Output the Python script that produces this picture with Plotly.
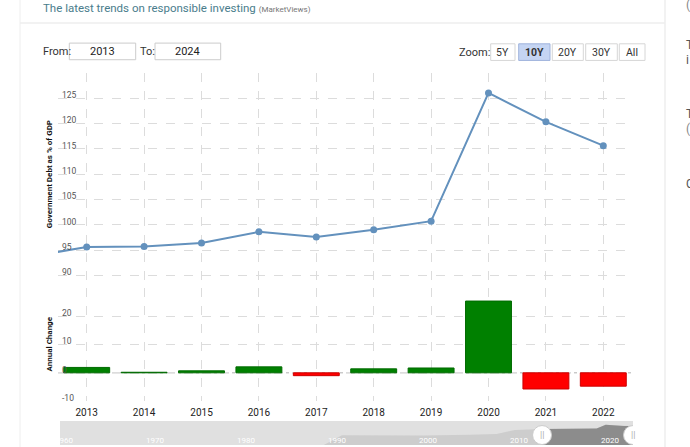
import plotly.graph_objects as go

# ---------------- data ----------------
years = [2012, 2013, 2014, 2015, 2016, 2017, 2018, 2019, 2020, 2021, 2022]
debt_gdp = [93.7, 95.6, 95.7, 96.4, 98.6, 97.6, 99.0, 100.7, 126.0, 120.3, 115.6]

bar_years = [2013, 2014, 2015, 2016, 2017, 2018, 2019, 2020, 2021, 2022]
annual_change = [1.9, 0.2, 0.7, 2.1, -1.0, 1.4, 1.7, 25.3, -5.7, -4.7]

top_ticks = [90, 95, 100, 105, 110, 115, 120, 125, 130]
top_ticktext = ["90", "95", "100", "105", "110", "115", "120", "125", ""]
bot_ticks = [-10, 0, 10, 20, 30]
bot_ticktext = ["-10", "0", "10", "20", ""]

# navigator (full history, rough reading of the mini chart)
nav_years = [1960, 1989, 1991, 2000, 2005, 2008, 2010, 2013, 2019, 2020, 2021, 2022, 2023]
nav_vals = [0, 0, 62, 60, 64, 69, 94, 100, 104, 127, 122, 119, 119]
nav_sel_from, nav_sel_to = 2013, 2023
nav_labels = [1960, 1970, 1980, 1990, 2000, 2010, 2020]

zoom_buttons = ["5Y", "10Y", "20Y", "30Y", "All"]
active_button = "10Y"
from_year, to_year = "2013", "2024"

# ---------------- helpers ----------------
W, H = 690, 447
def px(x):
    return x / W
def py(y):
    return 1 - y / H

FONT = "Roboto"
LINE_COLOR = "#6391bd"
GRID = "#dcdcdc"

fig = go.Figure()

# main line
fig.add_trace(go.Scatter(
    x=years, y=debt_gdp, mode="lines+markers",
    line=dict(color=LINE_COLOR, width=2),
    marker=dict(color=LINE_COLOR, size=7),
    xaxis="x", yaxis="y", showlegend=False, hoverinfo="x+y"))

# bars
bar_colors = ["#008000" if v >= 0 else "#ff0000" for v in annual_change]
bar_lines = ["#006a00" if v >= 0 else "#cc0000" for v in annual_change]
fig.add_trace(go.Bar(
    x=bar_years, y=annual_change, width=0.8,
    marker=dict(color=bar_colors, line=dict(color=bar_lines, width=1)),
    xaxis="x2", yaxis="y2", showlegend=False))

# navigator
fig.add_trace(go.Scatter(
    x=nav_years, y=nav_vals, mode="lines", line=dict(width=0, color="#cdcdcd"),
    fill="tozeroy", fillcolor="#cdcdcd", xaxis="x3", yaxis="y3",
    showlegend=False, hoverinfo="skip"))
sel_x = [y for y in nav_years if nav_sel_from <= y <= nav_sel_to]
sel_y = [v for y, v in zip(nav_years, nav_vals) if nav_sel_from <= y <= nav_sel_to]
fig.add_trace(go.Scatter(
    x=sel_x, y=sel_y, mode="lines", line=dict(width=0, color="#8c8c8c"),
    fill="tozeroy", fillcolor="#8c8c8c", xaxis="x3", yaxis="y3",
    showlegend=False, hoverinfo="skip"))

xr = [2012.5, 2022.5]
xdom = [px(58), px(632)]
common_x = dict(range=xr, domain=xdom, tickvals=bar_years, showgrid=True,
                gridcolor=GRID, griddash="dash", gridwidth=1, zeroline=False,
                showline=False, ticks="", fixedrange=True)
ytick_common = dict(ticklabelposition="inside", ticklabelstandoff=1,
                    ticklabelshift=-3, ticklabeloverflow="allow",
                    tickfont=dict(size=8.5, color="#555"), showgrid=True,
                    gridcolor=GRID, griddash="dash", zeroline=False, ticks="")

fig.update_layout(
    width=W, height=H, autosize=False,
    margin=dict(l=0, r=0, t=0, b=0),
    paper_bgcolor="white", plot_bgcolor="white",
    font=dict(family=FONT, color="#333"),
    bargap=0.2,
    xaxis=dict(**common_x, anchor="y", showticklabels=False),
    yaxis=dict(range=[88.37, 130], domain=[py(285), py(73)], tickvals=top_ticks,
               ticktext=top_ticktext, anchor="x", **ytick_common),
    xaxis2=dict(**common_x, anchor="y2", showticklabels=True,
                tickfont=dict(size=10, color="#222"), ticklabelstandoff=4),
    yaxis2=dict(range=[-10, 30], domain=[py(403), py(289)], tickvals=bot_ticks,
                ticktext=bot_ticktext, anchor="x2", **ytick_common),
    xaxis3=dict(range=[1960, 2023], domain=[px(60), px(633)], showgrid=False,
                showticklabels=False, zeroline=False, ticks="", anchor="y3"),
    yaxis3=dict(range=[0, 150], domain=[0, py(423)], showgrid=False,
                showticklabels=False, zeroline=False, ticks="", anchor="x3"),
)

shapes = []
annotations = []

def note(x, y, text, size, color, xanchor="center", xref="paper", **kw):
    annotations.append(dict(x=x, y=y, xref=xref, yref="paper", text=text,
                            showarrow=False, xanchor=xanchor, yanchor="middle",
                            font=dict(size=size, color=color, family=FONT), **kw))

# container borders
shapes.append(dict(type="line", xref="paper", yref="paper", x0=px(20), x1=px(20),
                   y0=py(-5), y1=py(460), line=dict(color="#eeeeee", width=1)))
shapes.append(dict(type="line", xref="paper", yref="paper", x0=px(665), x1=px(665),
                   y0=py(-5), y1=py(460), line=dict(color="#eeeeee", width=1.5)))
shapes.append(dict(type="line", xref="paper", yref="paper", x0=px(20), x1=px(665),
                   y0=py(23), y1=py(23), line=dict(color="#eeeeee", width=1.5)))

# zero line of bar chart
shapes.append(dict(type="line", xref="x2", yref="y2", x0=xr[0], x1=xr[1], y0=0, y1=0,
                   line=dict(color="#b0b0b0", width=1, dash="dashdot"), layer="below"))

# navigator background
shapes.append(dict(type="rect", xref="x3", yref="paper", x0=1960, x1=2023,
                   y0=0, y1=py(423), fillcolor="#e0e0e0", line=dict(width=0),
                   layer="below"))

# navigator handles
for hx in (nav_sel_from, nav_sel_to):
    shapes.append(dict(type="circle", xref="x3", yref="paper", xsizemode="pixel",
                       ysizemode="pixel", xanchor=hx, yanchor=py(437),
                       x0=-9.5, x1=9.5, y0=-9.5, y1=9.5,
                       fillcolor="white", line=dict(color="#cccccc", width=1)))
    note(hx, py(437), "||", 9, "#aaaaaa", xref="x3")

for yl in nav_labels:
    note(yl, py(442), str(yl), 8, "white", xref="x3", xshift=4)

# title
note(px(41), py(8),
     "The latest trends on responsible investing <span style='font-size:8px;color:#777'>(MarketViews)</span>",
     11.5, "#4a7d8c", xanchor="left")

# axis titles
note(px(49), py(175), "<b>Government Debt as % of GDP</b>", 8, "#111", textangle=-90)
note(px(49), py(346), "<b>Annual Change</b>", 8, "#111", textangle=-90)

# From / To inputs
note(px(40.7), py(52), "From:", 11, "#333", xanchor="left")
note(px(138.3), py(52), "To:", 11, "#333", xanchor="left")
for (x0, x1, t) in ((69.3, 135.7, from_year), (155, 220.7, to_year)):
    shapes.append(dict(type="rect", xref="paper", yref="paper", x0=px(x0), x1=px(x1),
                       y0=py(60), y1=py(43.3), line=dict(color="#cccccc", width=1),
                       fillcolor="white"))
    note(px((x0 + x1) / 2), py(52), t, 11, "#222")

# Zoom buttons
note(px(456.7), py(52.5), "Zoom:", 11, "#333", xanchor="left")
btn_x = [(490.7, 515), (518.7, 550), (552.3, 583.3), (585.7, 617.3), (619.3, 645)]
for (x0, x1), lab in zip(btn_x, zoom_buttons):
    act = lab == active_button
    shapes.append(dict(type="rect", xref="paper", yref="paper", x0=px(x0), x1=px(x1),
                       y0=py(60.7), y1=py(44), fillcolor="#c5d5f3" if act else "white",
                       line=dict(color="#9fb3dc" if act else "#d6d6d6", width=1)))
    note(px((x0 + x1) / 2), py(52.5), f"<b>{lab}</b>" if act else lab, 10.5, "#333")

# clipped sidebar letters on the right
for (yy, t, c) in ((5, "(", "#888"), (45, "T", "#555"), (60, "i", "#555"),
                   (115, "T", "#555"), (130, "(", "#888"), (185, "C", "#555")):
    note(px(684), py(yy), t, 12, c, xanchor="left")

fig.update_layout(shapes=shapes, annotations=annotations)
fig.write_html("out.html", config={"displayModeBar": False},
               post_script="document.body.style.margin='0';")
